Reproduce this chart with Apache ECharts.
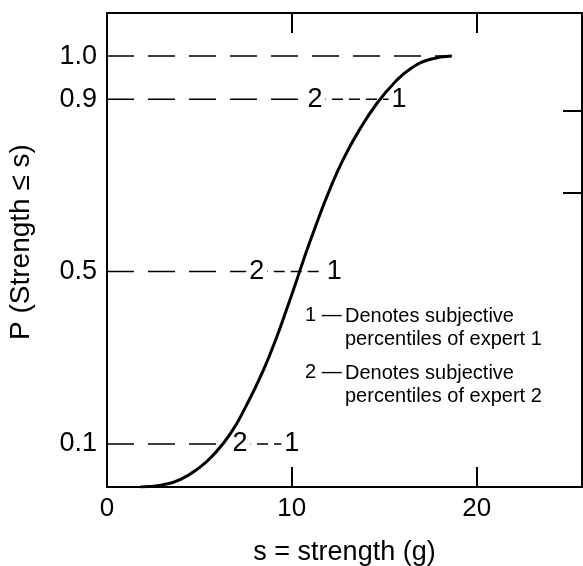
<!DOCTYPE html>
<html>
<head>
<meta charset="utf-8">
<script src="https://cdn.jsdelivr.net/npm/echarts@6/dist/echarts.min.js"></script>
<style>
  html, body { margin: 0; padding: 0; background: #fff; }
  #chart { width: 583px; height: 566px; }
</style>
</head>
<body>
<div id="chart"></div>
<script>
// CDF curve
var strength = [1.8, 2.3, 3.0, 3.95, 5.0, 5.7, 6.65, 7.55, 8.45, 9.2, 9.7, 10.25, 10.6, 11.3, 12.05, 12.8, 13.7, 14.6, 15.5, 16.4, 17.45, 18.65]
var prob = [0, 0.001, 0.005, 0.017, 0.045, 0.072, 0.122, 0.19, 0.27, 0.35, 0.41, 0.478, 0.523, 0.607, 0.69, 0.762, 0.832, 0.89, 0.936, 0.97, 0.992, 1.0]

// subjective percentiles of the two experts
var levels = [0.1, 0.5, 0.9]
var expert1 = [10.0, 12.3, 15.8]
var expert2 = [7.2, 8.1, 11.25]

// axis labels / ticks
var xLabels = [0, 10, 20]
var xTicks = [10, 20]
var yLabels = [0.1, 0.5, 0.9, 1.0]
var rightTicks = [0.684, 0.872]

var FONT = 'Liberation Sans'
var chart = echarts.init(document.getElementById('chart'))

var curve = strength.map(function (s, i) { return [s, prob[i]] })

var series = []
// 1.0 line up to the end of the curve
series.push({
  type: 'line',
  data: [[0, 1.0], [strength[strength.length - 1], 1.0]],
  symbol: 'none',
  lineStyle: { color: '#000', width: 1.5, type: [27, 14] },
  z: 2
})
levels.forEach(function (p, i) {
  series.push({
    type: 'line',
    data: [[0, p], [expert2[i], p]],
    symbol: 'none',
    lineStyle: { color: '#000', width: 1.5, type: [27, 14] },
    z: 2
  })
  series.push({
    type: 'line',
    data: [[expert2[i], p], [expert1[i], p]],
    symbol: 'none',
    lineStyle: { color: '#000', width: 1.5, type: [11, 6] },
    z: 2
  })
})
// the "2" and "1" markers
function markers (xs, txt) {
  return {
    type: 'scatter',
    data: xs.map(function (s, i) { return [s, levels[i]] }),
    symbolSize: 0,
    itemStyle: { color: '#000', opacity: 1 },
    z: 4,
    label: {
      show: true,
      position: 'inside',
      formatter: txt,
      fontFamily: FONT,
      fontSize: 27,
      color: '#000',
      textBorderWidth: 0,
      backgroundColor: '#fff',
      padding: [0, 3]
    }
  }
}
series.push(markers(expert2, '2'))
series.push(markers(expert1, '1'))
// the curve (drawn over the marker backgrounds)
series.push({
  type: 'line',
  data: curve,
  symbol: 'none',
  smooth: 0.5,
  lineStyle: { color: '#000', width: 3 },
  z: 6
})

var option = {
  animation: false,
  backgroundColor: '#fff',
  grid: { left: 107, top: 13, right: 1, bottom: 79, outerBoundsMode: 'none' },
  xAxis: [
    {
      type: 'value', min: 0, max: 25.7,
      name: 's = strength (g)',
      nameLocation: 'middle',
      nameGap: 52,
      nameTextStyle: { fontFamily: FONT, fontSize: 27, color: '#000' },
      axisLine: { onZero: false, lineStyle: { color: '#000', width: 2 } },
      axisTick: { inside: true, length: 20, customValues: xTicks, lineStyle: { color: '#000', width: 2 } },
      axisLabel: { customValues: xLabels, fontFamily: FONT, fontSize: 26, color: '#000', margin: 9 },
      splitLine: { show: false }
    },
    {
      type: 'value', min: 0, max: 25.7, position: 'top',
      axisLine: { onZero: false, lineStyle: { color: '#000', width: 2 } },
      axisTick: { inside: true, length: 20, customValues: xTicks, lineStyle: { color: '#000', width: 2 } },
      axisLabel: { show: false },
      splitLine: { show: false }
    }
  ],
  yAxis: [
    {
      type: 'value', min: 0, max: 1.1,
      name: 'P (Strength \u2264 s)',
      nameLocation: 'middle',
      nameGap: 72,
      nameRotate: 90,
      nameTextStyle: { fontFamily: FONT, fontSize: 28, color: '#000', padding: [0, 0, 0, 16] },
      axisLine: { onZero: false, lineStyle: { color: '#000', width: 2 } },
      axisTick: { show: false },
      axisLabel: {
        customValues: yLabels,
        formatter: function (v) { return v.toFixed(1) },
        fontFamily: FONT, fontSize: 27, color: '#000', margin: 10
      },
      splitLine: { show: false }
    },
    {
      type: 'value', min: 0, max: 1.1, position: 'right',
      axisLine: { show: true, onZero: false, lineStyle: { color: '#000', width: 2 } },
      axisTick: { inside: true, length: 19, customValues: rightTicks, lineStyle: { color: '#000', width: 2 } },
      axisLabel: { show: false },
      splitLine: { show: false }
    }
  ],
  graphic: [
    { type: 'text', left: 305, top: 305, style: { text: '1 \u2014', font: '20px "Liberation Sans"', fill: '#000' } },
    { type: 'text', left: 345, top: 305, style: { text: 'Denotes subjective\npercentiles of expert 1', font: '20px "Liberation Sans"', lineHeight: 23, fill: '#000' } },
    { type: 'text', left: 305, top: 362, style: { text: '2 \u2014', font: '20px "Liberation Sans"', fill: '#000' } },
    { type: 'text', left: 345, top: 362, style: { text: 'Denotes subjective\npercentiles of expert 2', font: '20px "Liberation Sans"', lineHeight: 23, fill: '#000' } }
  ],
  series: series
}
chart.setOption(option)
</script>
</body>
</html>
